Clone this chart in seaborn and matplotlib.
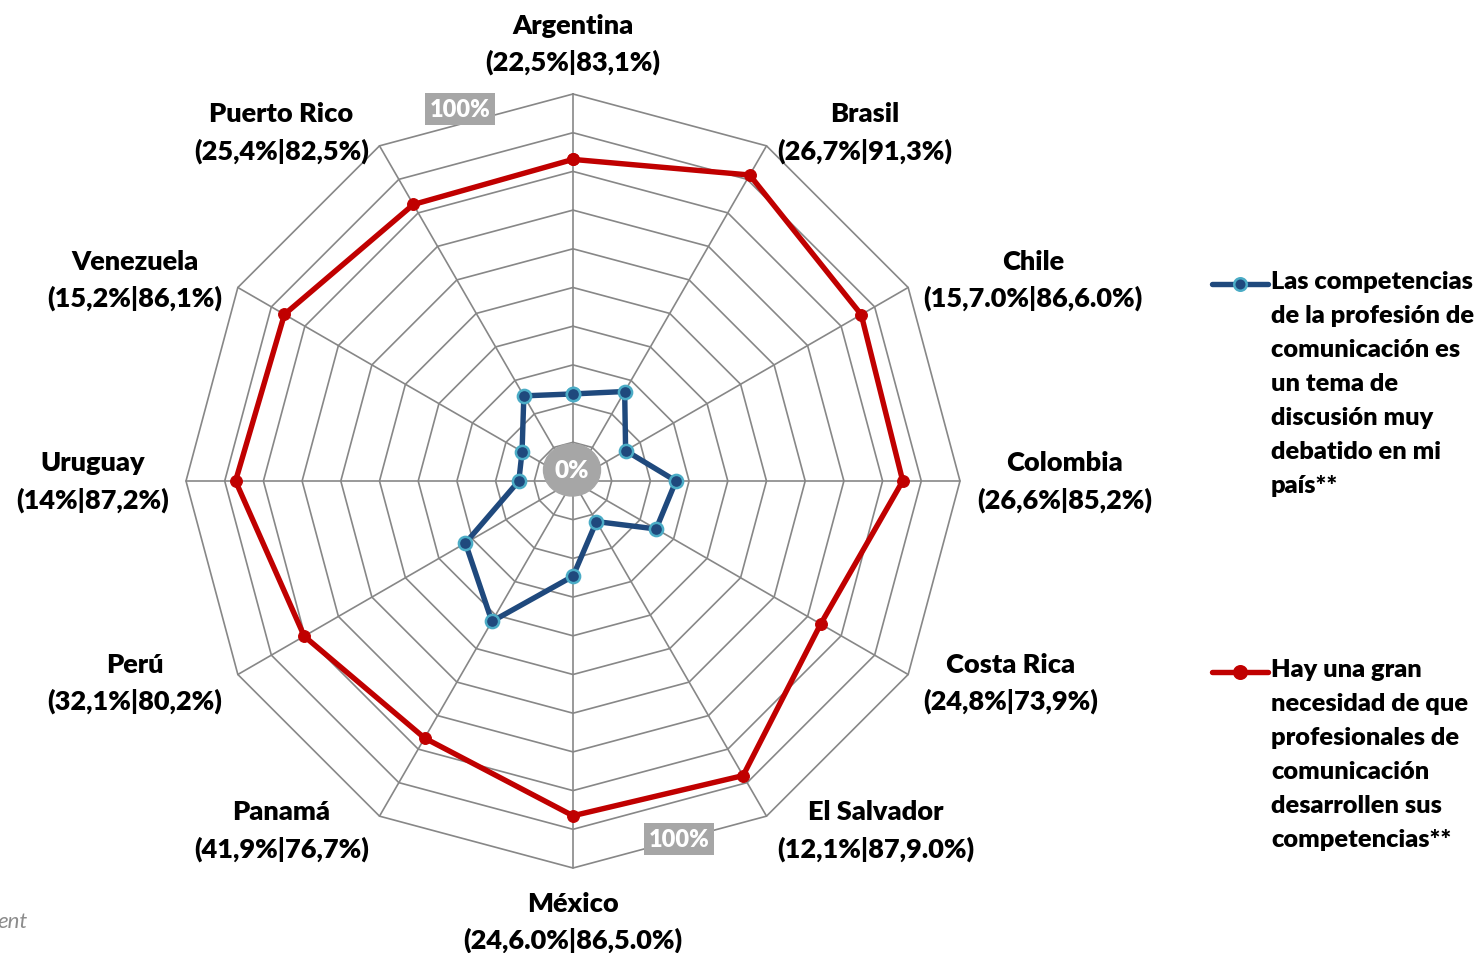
import numpy as np
import pandas as pd
import seaborn as sns
import matplotlib.pyplot as plt
from matplotlib.lines import Line2D
from matplotlib.patches import Ellipse

# --- data -------------------------------------------------------------
paises = ["Argentina", "Brasil", "Chile", "Colombia", "Costa Rica", "El Salvador",
          "México", "Panamá", "Perú", "Uruguay", "Venezuela", "Puerto Rico"]
etiquetas = ["(22,5%|83,1%)", "(26,7%|91,3%)", "(15,7.0%|86,6.0%)", "(26,6%|85,2%)",
             "(24,8%|73,9%)", "(12,1%|87,9.0%)", "(24,6.0%|86,5.0%)", "(41,9%|76,7%)",
             "(32,1%|80,2%)", "(14%|87,2%)", "(15,2%|86,1%)", "(25,4%|82,5%)"]
debate = [22.5, 26.7, 15.7, 26.6, 24.8, 12.1, 24.6, 41.9, 32.1, 14.0, 15.2, 25.4]
necesidad = [83.1, 91.3, 86.0, 85.2, 73.9, 87.9, 86.5, 76.7, 80.2, 87.2, 86.1, 82.5]
anillos = [10, 20, 30, 40, 50, 60, 70, 80, 90, 100]

serie_debate = ("Las competencias\nde la profesión de\ncomunicación es\nun tema de\n"
                "discusión muy\ndebatido en mi\npaís**")
serie_necesidad = ("Hay una gran\nnecesidad de que\nprofesionales de\ncomunicación\n"
                   "desarrollen sus\ncompetencias**")

AZUL = "#1f497d"
AZUL_BORDE = "#4bacc6"
ROJO = "#c00000"
GRIS = "#878787"

sns.set_theme(style="white")
plt.rcParams["font.family"] = ["Lato", "DejaVu Sans"]

W, H = 1481, 954
CX, CY = 573, 482      # centre in pixels (from top-left)
S = 3.87               # pixels per percentage point

fig = plt.figure(figsize=(W / 100, H / 100), dpi=100)
ax = fig.add_axes([0, 0, 1, 1])
ax.axis("off")

n = len(paises)
ang = np.arange(n) * 2 * np.pi / n
sen, cos = np.sin(ang), np.cos(ang)


def polar_df(vals):
    v = list(vals) + [vals[0]]
    a = list(ang) + [ang[0]]
    return pd.DataFrame({"x": np.array(v) * np.sin(a), "y": np.array(v) * np.cos(a)})


# grid: polygon rings and spokes
for r in anillos:
    g = polar_df([r] * n)
    ax.plot(g["x"], g["y"], color=GRIS, lw=1.2, zorder=1)
for k in range(n):
    ax.plot([0, 100 * sen[k]], [0, 100 * cos[k]], color=GRIS, lw=1.2, zorder=1)

# series
sns.lineplot(data=polar_df(necesidad), x="x", y="y", sort=False, estimator=None,
             ax=ax, color=ROJO, lw=3.9, marker="o", markersize=8.5,
             markerfacecolor=ROJO, markeredgecolor=ROJO, zorder=3)
sns.lineplot(data=polar_df(debate), x="x", y="y", sort=False, estimator=None,
             ax=ax, color=AZUL, lw=3.9, marker="o", markersize=9.5,
             markerfacecolor=AZUL, markeredgecolor=AZUL_BORDE, markeredgewidth=1.8,
             zorder=4)
ax.set_xlim(-CX / S, (W - CX) / S)
ax.set_ylim(-(H - CY) / S, CY / S)
ax.axis("off")

# category labels
FS = 19.5
for k in range(n):
    vx, vy = 100 * sen[k], 100 * cos[k]
    txt = paises[k] + "\n" + etiquetas[k]
    if abs(sen[k]) < 0.01:
        ha = "center"
        va = "bottom" if cos[k] > 0 else "top"
        off = (0, 20 if cos[k] > 0 else -23)
    else:
        ha = "left" if sen[k] > 0 else "right"
        va = "center"
        off = (np.sign(sen[k]) * (4 + 13 * abs(sen[k])), 16 * cos[k])
    ax.annotate(txt, xy=(vx, vy), xytext=off, textcoords="offset pixels",
                ha=ha, va=va, multialignment="center", fontsize=FS,
                fontweight="heavy", color="black", linespacing=1.55)

# axis value badges
ax.add_patch(Ellipse((-1 / S, 11 / S), 57 / S, 52 / S, color="#a6a6a6", zorder=5))
ax.text(-1 / S, 11 / S, "0%", ha="center", va="center", color="white",
        fontsize=17.5, fontweight="heavy", zorder=6)
for bx, by in [(-113, 372), (106, -358)]:
    ax.text(bx / S, by / S, "100%", ha="center", va="center", color="white",
            fontsize=17, fontweight="heavy", zorder=6,
            bbox=dict(boxstyle="square,pad=0.2", fc="#a6a6a6", ec="none"))

# legend (handle aligned with first line of each label)
FSL = 18.3
for label, col, edge, yline in [(serie_debate, AZUL, AZUL_BORDE, 285),
                                (serie_necesidad, ROJO, ROJO, 673)]:
    yf = (H - yline) / H
    fig.add_artist(Line2D([1212 / W, 1268 / W], [yf, yf], transform=fig.transFigure,
                          color=col, lw=3.9))
    fig.add_artist(Line2D([1240 / W], [yf], transform=fig.transFigure, marker="o",
                          markersize=9, markerfacecolor=col, markeredgecolor=edge,
                          markeredgewidth=1.8, lw=0))
    fig.text(1271 / W, (H - yline + 14) / H, label, ha="left", va="top",
             fontsize=FSL, fontweight="heavy", color="black", linespacing=1.67)

fig.text(28 / W, (H - 928) / H, "ent", ha="right", va="baseline", fontsize=16,
         style="italic", color="#8c8c8c")

fig.savefig("out.png", dpi=100)
